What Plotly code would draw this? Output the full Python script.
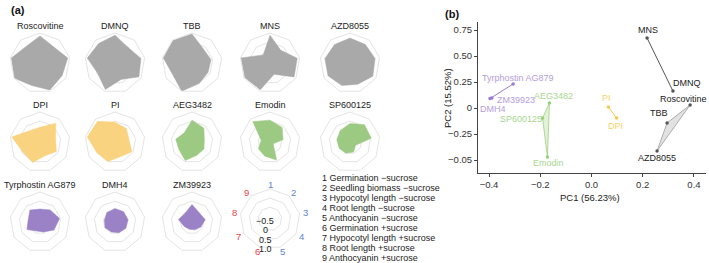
import math
import plotly.graph_objects as go

W, H = 709, 263
FONT = "Liberation Sans, Arial, sans-serif"

# ---------------- data ----------------
axis_ids = ["1", "2", "3", "4", "5", "6", "7", "8", "9"]
trait_names = [
    "Germination \u2212sucrose",
    "Seedling biomass \u2212sucrose",
    "Hypocotyl length \u2212sucrose",
    "Root length \u2212sucrose",
    "Anthocyanin \u2212sucrose",
    "Germination +sucrose",
    "Hypocotyl length +sucrose",
    "Root length +sucrose",
    "Anthocyanin +sucrose",
]
compounds = ["Roscovitine", "DMNQ", "TBB", "MNS", "AZD8055", "DPI", "PI",
             "AEG3482", "Emodin", "SP600125", "Tyrphostin AG879", "DMH4", "ZM39923"]
groups = ["grey"] * 5 + ["yellow"] * 2 + ["green"] * 3 + ["purple"] * 3

roscovitine = [0.84, 0.51, 0.90, 0.75, 0.93, 0.67, 1.00, 0.95, 0.54]
dmnq = [0.88, 0.47, 0.80, 0.87, 0.31, 0.90, 0.46, 0.90, 0.75]
tbb = [0.95, 0.34, 0.41, 0.37, 0.54, 1.00, 0.59, 0.95, 0.98]
mns = [0.88, 0.27, 0.87, 0.88, 0.01, 0.92, 0.95, 0.97, -0.07]
azd8055 = [0.72, 0.67, 0.75, 0.80, 0.59, 0.67, 0.75, 0.75, 0.67]
dpi = [0.16, 0.70, 0.22, 0.39, 0.16, 0.55, 0.44, 0.93, 0.18]
pi = [0.44, 0.32, 0.13, 0.42, 0.21, 0.49, 0.51, 0.90, 0.84]
aeg3482 = [0.55, 0.36, 0.04, 0.11, 0.13, 0.44, 0.18, 0.26, 0.01]
emodin = [0.55, 0.39, 0.08, -0.45, 0.41, 0.18, 0.09, -0.16, 0.82]
sp600125 = [0.37, 0.59, 0.54, -0.29, -0.07, 0.01, 0.04, 0.09, 0.18]
tyrphostin = [0.06, 0.22, 0.44, 0.24, -0.07, -0.12, 0.18, 0.01, 0.21]
dmh4 = [0.09, 0.09, 0.08, 0.04, -0.02, -0.07, -0.02, -0.06, 0.04]
zm39923 = [0.31, -0.01, 0.09, -0.09, -0.19, -0.22, -0.16, 0.11, -0.04]
radar_values = [roscovitine, dmnq, tbb, mns, azd8055, dpi, pi,
                aeg3482, emodin, sp600125, tyrphostin, dmh4, zm39923]

radial_ticks = ["\u22120.5", "0", "0.5", "1.0"]

pc1 = [0.385, 0.318, 0.295, 0.217, 0.256, 0.098, 0.066,
       -0.164, -0.172, -0.191, -0.306, -0.396, -0.389]
pc2 = [0.029, 0.163, -0.144, 0.673, -0.413, -0.096, 0.010,
       0.048, -0.471, -0.096, 0.231, 0.091, 0.096]
x_tickvals = [-0.4, -0.2, 0.0, 0.2, 0.4]
x_ticktext = ["\u22120.4", "\u22120.2", "0.0", "0.2", "0.4"]
y_tickvals = [0.75, 0.5, 0.25, 0.0, -0.25, -0.5]
y_ticktext = ["0.75", "0.50", "0.25", "0", "\u22120.25", "\u22120.05"]

# outline paths of each group in the PCA panel (by compound name)
hull_line_paths = {"grey": ["MNS", "DMNQ"], "purple": ["Tyrphostin AG879", "ZM39923", "DMH4"],
                   "yellow": ["PI", "DPI"]}
hull_fill_paths = {"grey": ["Roscovitine", "TBB", "AZD8055", "Roscovitine"],
                   "green": ["AEG3482", "SP600125", "Emodin", "AEG3482"]}

# ---------------- styles ----------------
fill_col = {"grey": "#a9a9a9", "yellow": "#f9d37f", "green": "#9dca83", "purple": "#9b82c6"}
pt_col = {"grey": "#555555", "yellow": "#f3c94a", "green": "#97cf78", "purple": "#9a7bcf"}
lab_col = {"grey": "#222222", "yellow": "#f6d36c", "green": "#a9d690", "purple": "#b49edc"}
hull_fill = {"grey": "rgba(190,190,190,0.45)", "green": "rgba(160,210,130,0.30)"}
hull_line = {"grey": "#9a9a9a", "green": "#9dd07f"}
axis_lab_col = ["#5b86d6"] * 5 + ["#e8414a"] * 4

col_x = [40, 115, 192, 270, 350]
row_y = [63, 142, 222]
R = 30
label_off = {"Roscovitine": (-7, -6), "DMNQ": (14, -8), "TBB": (-8, -10), "MNS": (1, -8),
             "AZD8055": (0, 7), "DPI": (-1, 8), "PI": (-2, -9), "AEG3482": (4, -7),
             "Emodin": (1, 6), "SP600125": (-22, 1), "Tyrphostin AG879": (5, -6),
             "DMH4": (3, 10), "ZM39923": (24, 2)}


def px(x):
    return x / W


def py(y):
    return 1 - y / H


def note(x, y, text, size=9, color="#222", xanchor="center", **kw):
    return dict(x=px(x), y=py(y), xref="paper", yref="paper", text=text, showarrow=False,
                font=dict(size=size, color=color, family=FONT), xanchor=xanchor,
                yanchor="middle", **kw)


fig = go.Figure()
layout = dict(width=W, height=H, margin=dict(l=0, r=0, t=0, b=0, pad=0),
              paper_bgcolor="white", plot_bgcolor="white", showlegend=False,
              font=dict(family=FONT, size=9, color="#222"))
annotations = []


def polar_layout(cx, cy):
    return dict(
        domain=dict(x=[px(cx - R), px(cx + R)], y=[py(cy + R), py(cy - R)]),
        gridshape="linear", bgcolor="rgba(0,0,0,0)",
        radialaxis=dict(range=[-0.65, 1.0], tickvals=[0, 0.5, 1.0], showticklabels=False,
                        ticks="", showline=False, gridcolor="#e4e4e4", gridwidth=1),
        angularaxis=dict(type="category", categoryarray=axis_ids, direction="clockwise",
                         rotation=90, showgrid=False, ticks="", showline=True,
                         linecolor="#e4e4e4", linewidth=1, showticklabels=False),
    )


for i, (name, vals) in enumerate(zip(compounds, radar_values)):
    r, c = divmod(i, 5)
    cx, cy = col_x[c], row_y[r]
    key = "polar" if i == 0 else f"polar{i + 1}"
    layout[key] = polar_layout(cx, cy)
    g = groups[i]
    fig.add_trace(go.Scatterpolar(
        r=vals + vals[:1], theta=axis_ids + axis_ids[:1], mode="lines",
        fill="toself", fillcolor=fill_col[g], line=dict(color=fill_col[g], width=0.5),
        subplot=key, hoverinfo="skip"))
    annotations.append(note(cx, cy - 37.5, name))

# legend radar
LCX, LCY = 270, 219
lkey = f"polar{len(compounds) + 1}"
layout[lkey] = polar_layout(LCX, LCY)
fig.add_trace(go.Scatterpolar(r=[None], theta=[axis_ids[0]], mode="lines", subplot=lkey,
                              hoverinfo="skip"))
for j, (a, colr) in enumerate(zip(axis_ids, axis_lab_col)):
    ang = math.radians(90 - 40 * j)
    annotations.append(note(LCX + 36 * math.cos(ang), LCY - 35 * math.sin(ang), a,
                            size=9.5, color=colr))
for j, t in enumerate(radial_ticks):
    annotations.append(note(265, 221 + j * 9.4, t))
for j, (a, t) in enumerate(zip(axis_ids, trait_names)):
    annotations.append(note(320, 177.5 + j * 10.1, f"{a} {t}", xanchor="left"))

# ---------------- PCA panel ----------------
idx = {n: k for k, n in enumerate(compounds)}
for g, path in hull_fill_paths.items():
    fig.add_trace(go.Scatter(x=[pc1[idx[n]] for n in path], y=[pc2[idx[n]] for n in path],
                             mode="lines", fill="toself", fillcolor=hull_fill[g],
                             line=dict(color=hull_line[g], width=0.8), hoverinfo="skip"))
for g, path in hull_line_paths.items():
    fig.add_trace(go.Scatter(x=[pc1[idx[n]] for n in path], y=[pc2[idx[n]] for n in path],
                             mode="lines", line=dict(color=pt_col[g], width=1),
                             hoverinfo="skip"))
fig.add_trace(go.Scatter(x=pc1, y=pc2, mode="markers",
                         marker=dict(size=3.5, color=[pt_col[g] for g in groups]),
                         hoverinfo="skip"))
for n, x, y, g in zip(compounds, pc1, pc2, groups):
    dx, dy = label_off[n]
    annotations.append(dict(x=x, y=y, xref="x", yref="y", text=n, showarrow=False,
                            xshift=dx, yshift=-dy,
                            font=dict(size=9, color=lab_col[g], family=FONT),
                            xanchor="center", yanchor="middle"))

layout["xaxis"] = dict(domain=[px(478), px(706)], range=[-0.443, 0.447], anchor="y",
                       showgrid=False, zeroline=False, showline=True, linecolor="#444",
                       linewidth=1, ticks="outside", ticklen=3, tickcolor="#444",
                       tickmode="array", tickvals=x_tickvals, ticktext=x_ticktext,
                       showticklabels=True, automargin=False,
                       tickfont=dict(size=9.5, color="#333"))
layout["yaxis"] = dict(domain=[py(173), py(22)], range=[-0.625, 0.827], anchor="x",
                       showgrid=False, zeroline=False, showline=True, linecolor="#444",
                       linewidth=1, ticks="outside", ticklen=3, tickcolor="#444",
                       tickmode="array", tickvals=y_tickvals, ticktext=y_ticktext,
                       showticklabels=True, automargin=False,
                       tickfont=dict(size=9.5, color="#333"))
annotations.append(note(590, 197, "PC1 (56.23%)", size=9.5))
annotations.append(note(447, 98, "PC2 (15.52%)", size=9.5, textangle=-90))
annotations.append(note(9, 10, "<b>(a)</b>", size=11, color="#111", xanchor="left"))
annotations.append(note(443, 14, "<b>(b)</b>", size=11, color="#111", xanchor="left"))

layout["annotations"] = annotations
fig.update_layout(**layout)
fig.write_html("out.html", config={"displayModeBar": False},
               post_script="document.body.style.margin='0';"
                           "document.body.style.padding='0';")
